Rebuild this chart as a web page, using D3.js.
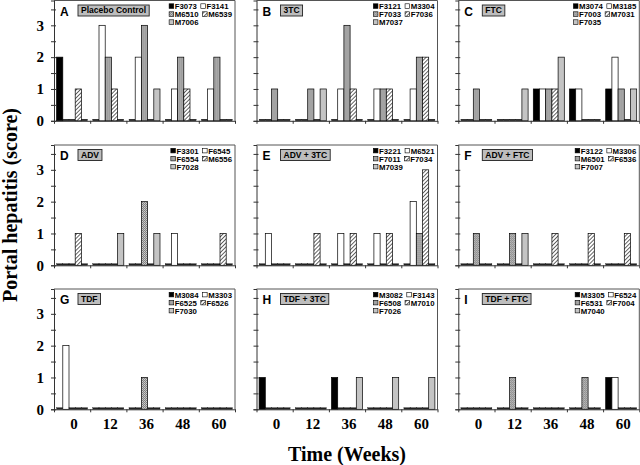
<!DOCTYPE html>
<html>
<head>
<meta charset="utf-8">
<title>Portal hepatitis</title>
<script src="https://d3js.org/d3.v7.min.js"></script>
<style>
  body { margin: 0; background: #fff; }
  svg { display: block; }
</style>
</head>
<body>
<svg id="chart" width="640" height="465"></svg>
<script>
// weeks on the x axis
const weeks = ["0", "12", "36", "48", "60"];

const panelLetters = ["A", "B", "C", "D", "E", "F", "G", "H", "I"];
const treatments = ["Placebo Control", "3TC", "FTC", "ADV", "ADV + 3TC", "ADV + FTC", "TDF", "TDF + 3TC", "TDF + FTC"];

// animal ids per panel, in series order: black, white, stipple, hatch, light grey
const animalsA = ["F3073", "F3141", "M6510", "M6539", "M7006"];
const animalsB = ["F3121", "M3304", "F7033", "F7036", "M7037"];
const animalsC = ["M3074", "M3185", "F7003", "M7031", "F7035"];
const animalsD = ["F3301", "F6545", "F6554", "M6556", "F7028"];
const animalsE = ["F3221", "M6521", "F7011", "F7034", "M7039"];
const animalsF = ["F3122", "M3306", "M6501", "F6536", "F7007"];
const animalsG = ["M3084", "M3303", "F6525", "F6526", "F7030"];
const animalsH = ["M3082", "F3143", "F6508", "M7010", "F7026"];
const animalsI = ["M3305", "F6524", "F6531", "F7004", "M7040"];

// scores: one row per animal, one value per week
const scoresA = [[2,0,0,0,0],[0,3,2,1,1],[0,2,3,2,2],[1,1,0,1,0],[0,0,1,0,0]];
const scoresB = [[0,0,0,0,0],[0,0,1,1,1],[1,1,3,1,2],[0,0,1,1,2],[0,1,0,0,0]];
const scoresC = [[0,0,1,1,1],[0,0,1,1,2],[1,0,1,0,1],[0,0,1,0,0],[0,1,2,0,1]];
const scoresD = [[0,0,0,0,0],[0,0,0,1,0],[0,0,2,0,0],[1,0,0,0,1],[0,1,1,0,0]];
const scoresE = [[0,0,0,0,0],[1,0,1,1,2],[0,0,0,0,1],[0,1,1,1,3],[0,0,0,0,0]];
const scoresF = [[0,0,0,0,0],[0,0,0,0,0],[1,1,0,0,0],[0,0,1,1,1],[0,1,0,0,0]];
const scoresG = [[0,0,0,0,0],[2,0,0,0,0],[0,0,1,0,0],[0,0,0,0,0],[0,0,0,0,0]];
const scoresH = [[1,0,1,0,0],[0,0,0,0,0],[0,0,0,0,0],[0,0,0,0,0],[0,0,1,1,1]];
const scoresI = [[0,0,0,0,1],[0,0,0,0,1],[0,1,0,1,0],[0,0,0,0,0],[0,0,0,0,0]];

const yTicks = [0, 0.5, 1, 1.5, 2, 2.5, 3, 3.5];

const animals = [animalsA, animalsB, animalsC, animalsD, animalsE, animalsF, animalsG, animalsH, animalsI];
const scores = [scoresA, scoresB, scoresC, scoresD, scoresE, scoresF, scoresG, scoresH, scoresI];

const svg = d3.select("#chart");
const serif = "'Liberation Serif', 'Times New Roman', serif";
const sans = "'Liberation Sans', Arial, sans-serif";

// fills
const defs = svg.append("defs");
const stip = defs.append("pattern").attr("id", "stip")
  .attr("width", 2).attr("height", 2).attr("patternUnits", "userSpaceOnUse");
stip.append("rect").attr("width", 2).attr("height", 2).attr("fill", "#808080");
stip.append("rect").attr("width", 1).attr("height", 1).attr("fill", "#cfcfcf");
stip.append("rect").attr("x", 1).attr("y", 1).attr("width", 1).attr("height", 1).attr("fill", "#bcbcbc");

const hatch = defs.append("pattern").attr("id", "hatch")
  .attr("width", 2.8).attr("height", 2.8).attr("patternUnits", "userSpaceOnUse")
  .attr("patternTransform", "rotate(45)");
hatch.append("rect").attr("width", 2.8).attr("height", 2.8).attr("fill", "#fff");
hatch.append("line").attr("x1", 0).attr("y1", 0).attr("x2", 0).attr("y2", 2.8)
  .attr("stroke", "#333").attr("stroke-width", 1.5);

const fills = ["#000", "#fff", "url(#stip)", "url(#hatch)", "#c4c4c4"];

const colX = [54, 256.5, 458.3];
const rowTop = [0.5, 145, 289];
const panelW = 181;
const plotH = 120.3;

const series = d3.range(5);

panelLetters.forEach((letter, p) => {
  const col = p % 3, row = Math.floor(p / 3);
  const g = svg.append("g").attr("transform", `translate(${colX[col]},${rowTop[row]})`);

  const x0 = d3.scaleBand().domain(weeks).range([0, panelW]).padding(0);
  const x1 = d3.scaleBand().domain(series).range([0, x0.bandwidth()])
    .paddingInner(0).paddingOuter(0.42);
  const y = d3.scaleLinear().domain([0, 3.78]).range([plotH, 0]);

  // frame top/right
  g.append("path")
    .attr("d", `M0,0H${panelW}V${plotH}`)
    .attr("fill", "none").attr("stroke", "#555").attr("stroke-width", 1);

  // bars
  const cells = [];
  scores[p].forEach((vals, s) => vals.forEach((v, w) => cells.push({ s, w: weeks[w], v })));
  g.selectAll("rect.bar").data(cells).join("rect")
    .attr("class", "bar")
    .attr("x", d => x0(d.w) + x1(d.s))
    .attr("width", x1.bandwidth())
    .attr("y", d => d.v > 0 ? y(d.v) : plotH - 1.6)
    .attr("height", d => d.v > 0 ? plotH - y(d.v) : 1.6)
    .attr("fill", d => d.v > 0 ? fills[d.s] : "#222")
    .attr("stroke", "#000")
    .attr("stroke-width", d => d.v > 0 ? 0.7 : 0.3);

  // y axis
  const ya = g.append("g").call(
    d3.axisLeft(y).tickValues(yTicks).tickSize(3).tickPadding(7)
      .tickFormat(d => col === 0 && Number.isInteger(d) ? d : ""));
  ya.select(".domain").attr("stroke", "#333");
  ya.selectAll(".tick line").attr("x2", 2).attr("x1", -3).attr("stroke", "#333");
  ya.selectAll(".tick text").attr("font-family", serif).attr("font-size", 15)
    .attr("font-weight", "bold").attr("fill", "#000");

  // x axis: ticks at group boundaries
  const bounds = weeks.map(w => x0(w)).concat([panelW]);
  const xl = d3.scaleLinear().domain([0, panelW]).range([0, panelW]);
  const xa = g.append("g").attr("transform", `translate(0,${plotH})`)
    .call(d3.axisBottom(xl).tickValues(bounds).tickSize(3).tickSizeOuter(0).tickFormat(""));
  xa.select(".domain").attr("stroke", "#333");
  xa.selectAll(".tick line").attr("stroke", "#333");

  if (row === 2) {
    const lab = g.append("g").attr("transform", `translate(0,${plotH})`)
      .call(d3.axisBottom(x0).tickSize(0).tickPadding(9));
    lab.select(".domain").remove();
    lab.selectAll(".tick text").attr("font-family", serif).attr("font-size", 15)
      .attr("font-weight", "bold").attr("fill", "#000").attr("dx", 2);
  }

  // panel letter
  g.append("text").attr("x", 6).attr("y", 15)
    .attr("font-family", sans).attr("font-weight", "bold").attr("font-size", 12)
    .text(letter);

  // treatment box
  const tb = g.append("g").attr("transform", "translate(24,4.5)");
  const tt = tb.append("text").attr("x", 3).attr("y", 8.2)
    .attr("font-family", sans).attr("font-weight", "bold").attr("font-size", 8.5)
    .text(treatments[p]);
  const tw = tt.node().getComputedTextLength();
  tb.insert("rect", "text").attr("width", tw + 6).attr("height", 11)
    .attr("fill", "#bdbdbd").attr("stroke", "#222").attr("stroke-width", 0.9);

  // legend: two entries per row, right aligned
  const lg = g.append("g");
  const rows = [[0, 1], [2, 3], [4]];
  let maxW = 0;
  rows.forEach((r, ri) => {
    let cx = 0;
    r.forEach((s, k) => {
      const it = lg.append("g").attr("transform", `translate(${cx},${8.5 + ri * 8})`);
      it.append("rect").attr("x", 0).attr("y", -5.2).attr("width", 4.6).attr("height", 4.6)
        .attr("fill", fills[s]).attr("stroke", "#000").attr("stroke-width", 0.6);
      const t = it.append("text").attr("x", 5.6).attr("y", 0)
        .attr("font-family", sans).attr("font-weight", "bold").attr("font-size", 7.8)
        .text(animals[p][s]);
      cx += 5.6 + t.node().getComputedTextLength() + (k === 0 ? 4 : 0);
    });
    maxW = Math.max(maxW, cx);
  });
  lg.attr("transform", `translate(${panelW - 3 - maxW},0)`);
});

// axis titles
svg.append("text")
  .attr("transform", "translate(17,205) rotate(-90)")
  .attr("text-anchor", "middle")
  .attr("font-family", serif).attr("font-weight", "bold").attr("font-size", 20)
  .text("Portal hepatitis (score)");

svg.append("text")
  .attr("x", 347).attr("y", 461)
  .attr("text-anchor", "middle")
  .attr("font-family", serif).attr("font-weight", "bold").attr("font-size", 20)
  .text("Time (Weeks)");
</script>
</body>
</html>
